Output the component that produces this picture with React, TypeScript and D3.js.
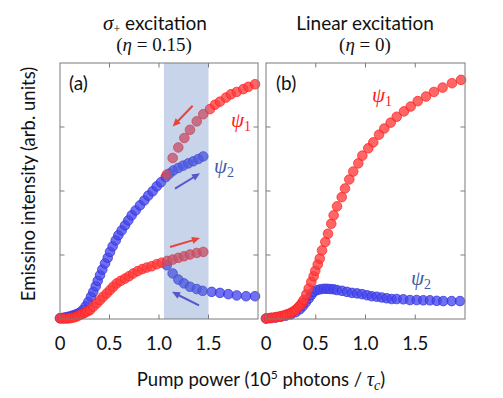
import React from "react";
import * as d3 from "d3";

// ---------- data ----------
const xTicks = [0.5, 1.0, 1.5];
const xTickLabels = ["0", "0.5", "1.0", "1.5"];
const xTickLabelValues = [0, 0.5, 1.0, 1.5];
const yTicks = [0.25, 0.5, 0.75];

// Panel (a): sigma+ excitation (eta = 0.15)
const aBlueUpX = [0, 0.025, 0.05, 0.075, 0.1, 0.125, 0.15, 0.175, 0.2, 0.23, 0.26, 0.286, 0.313, 0.336, 0.361, 0.381, 0.404, 0.427, 0.455, 0.482, 0.505, 0.532, 0.563, 0.589, 0.623, 0.657, 0.69, 0.724, 0.764, 0.808, 0.852, 0.892, 0.936, 0.977, 1.02, 1.068, 1.106, 1.145, 1.195, 1.245, 1.296, 1.346, 1.397, 1.447];
const aBlueUpY = [0.003, 0.004, 0.006, 0.008, 0.01, 0.013, 0.016, 0.02, 0.025, 0.035, 0.05, 0.067, 0.087, 0.106, 0.128, 0.149, 0.171, 0.193, 0.217, 0.239, 0.262, 0.284, 0.307, 0.327, 0.346, 0.366, 0.385, 0.405, 0.424, 0.444, 0.463, 0.482, 0.499, 0.518, 0.534, 0.554, 0.568, 0.58, 0.59, 0.599, 0.608, 0.616, 0.625, 0.635];
const aBlueDownX = [1.078, 1.138, 1.195, 1.253, 1.313, 1.381, 1.441, 1.532, 1.616, 1.7, 1.785, 1.879, 1.97];
const aBlueDownY = [0.21, 0.178, 0.154, 0.139, 0.126, 0.117, 0.11, 0.106, 0.102, 0.097, 0.092, 0.089, 0.089];
const aRedUpX = [0, 0.025, 0.051, 0.075, 0.101, 0.125, 0.152, 0.177, 0.202, 0.228, 0.253, 0.278, 0.303, 0.336, 0.371, 0.404, 0.437, 0.472, 0.505, 0.538, 0.573, 0.613, 0.657, 0.697, 0.74, 0.785, 0.831, 0.876, 0.926, 0.977, 1.027, 1.084, 1.138, 1.195, 1.253, 1.313, 1.381, 1.447];
const aRedUpY = [0.003, 0.002, 0.002, 0.002, 0.003, 0.005, 0.007, 0.011, 0.016, 0.02, 0.025, 0.03, 0.035, 0.048, 0.061, 0.074, 0.087, 0.1, 0.113, 0.126, 0.139, 0.149, 0.158, 0.167, 0.178, 0.187, 0.195, 0.201, 0.206, 0.214, 0.22, 0.227, 0.232, 0.239, 0.245, 0.252, 0.258, 0.262];
const aRedDownX = [1.078, 1.138, 1.195, 1.256, 1.313, 1.381, 1.447, 1.515, 1.566, 1.616, 1.677, 1.727, 1.785, 1.852, 1.902, 1.97];
const aRedDownY = [0.564, 0.629, 0.67, 0.707, 0.739, 0.772, 0.8, 0.82, 0.837, 0.849, 0.865, 0.878, 0.887, 0.898, 0.907, 0.917];

// Panel (b): linear excitation (eta = 0)
const bBlueX = [0, 0.05, 0.1, 0.15, 0.2, 0.25, 0.3, 0.34, 0.37, 0.4, 0.43, 0.455, 0.479, 0.513, 0.546, 0.58, 0.613, 0.646, 0.68, 0.714, 0.764, 0.814, 0.864, 0.915, 0.965, 1.015, 1.062, 1.113, 1.163, 1.213, 1.263, 1.314, 1.38, 1.447, 1.515, 1.581, 1.648, 1.716, 1.782, 1.866, 1.95];
const bBlueY = [0.002, 0.004, 0.006, 0.009, 0.013, 0.018, 0.027, 0.038, 0.05, 0.065, 0.08, 0.094, 0.106, 0.113, 0.116, 0.118, 0.118, 0.117, 0.116, 0.113, 0.11, 0.106, 0.102, 0.1, 0.097, 0.093, 0.089, 0.087, 0.084, 0.081, 0.078, 0.078, 0.077, 0.074, 0.074, 0.073, 0.073, 0.071, 0.07, 0.07, 0.07];
const bRedX = [0, 0.03, 0.06, 0.09, 0.11, 0.14, 0.16, 0.19, 0.21, 0.24, 0.26, 0.285, 0.305, 0.325, 0.345, 0.362, 0.379, 0.405, 0.429, 0.455, 0.479, 0.495, 0.52, 0.54, 0.563, 0.596, 0.623, 0.656, 0.68, 0.714, 0.761, 0.794, 0.837, 0.877, 0.928, 0.968, 1.028, 1.078, 1.136, 1.189, 1.253, 1.314, 1.387, 1.454, 1.525, 1.608, 1.688, 1.775, 1.869, 1.96];
const bRedY = [0.002, 0.003, 0.005, 0.006, 0.008, 0.01, 0.012, 0.015, 0.018, 0.022, 0.026, 0.032, 0.038, 0.046, 0.054, 0.063, 0.074, 0.096, 0.119, 0.145, 0.167, 0.188, 0.213, 0.236, 0.268, 0.301, 0.333, 0.372, 0.405, 0.44, 0.476, 0.51, 0.545, 0.576, 0.608, 0.638, 0.667, 0.69, 0.72, 0.744, 0.767, 0.79, 0.811, 0.83, 0.851, 0.869, 0.887, 0.904, 0.921, 0.934];

// hysteresis window in panel (a)
const shadeRange = [1.05, 1.5];

// arrows in panel (a): [x1, y1, x2, y2, colour key]
const arrowsA: [number, number, number, number, string][] = [
  [1.34, 0.833, 1.138, 0.752, "red"],
  [1.162, 0.509, 1.414, 0.569, "blue"],
  [1.111, 0.281, 1.414, 0.316, "red"],
  [1.404, 0.053, 1.131, 0.106, "blue"],
];

// ---------- styles ----------
const RED = "#ff3b3b";
const RED_STROKE = "#ff1f1f";
const BLUE = "#4848ee";
const BLUE_STROKE = "#3030d8";
const ARROW_RED = "#e8443c";
const ARROW_BLUE = "#5656cc";
const LABEL_BLUE = "#3d5ca8";
const SANS = "Lato, 'Open Sans', sans-serif";
const SERIF = "'Liberation Serif', 'DejaVu Serif', serif";

const W = 503;
const H = 398;
const Y_TOP = 63;
const Y_BOT = 319;

const yScale = d3.scaleLinear().domain([0, 1]).range([Y_BOT, Y_TOP]);

function zip(xs: number[], ys: number[]) {
  return xs.map((x, i) => [x, ys[i]] as [number, number]);
}

function Markers({ pts, x, fill, stroke }: { pts: [number, number][]; x: d3.ScaleLinear<number, number>; fill: string; stroke: string }) {
  return (
    <g>
      {pts.map(([px, py], i) => (
        <circle key={i} cx={x(px)} cy={yScale(py)} r={4.8} fill={fill} fillOpacity={0.78} stroke={stroke} strokeOpacity={0.8} strokeWidth={0.9} />
      ))}
    </g>
  );
}

function Arrow({ x1, y1, x2, y2, color }: { x1: number; y1: number; x2: number; y2: number; color: string }) {
  const dx = x2 - x1;
  const dy = y2 - y1;
  const len = Math.hypot(dx, dy);
  const ux = dx / len;
  const uy = dy / len;
  const hl = 8;
  const hw = 3.6;
  const bx = x2 - ux * hl;
  const by = y2 - uy * hl;
  const pts = `${x2},${y2} ${bx - uy * hw},${by + ux * hw} ${bx + uy * hw},${by - ux * hw}`;
  return (
    <g>
      <line x1={x1} y1={y1} x2={bx + ux * 1} y2={by + uy * 1} stroke={color} strokeWidth={2} />
      <polygon points={pts} fill={color} />
    </g>
  );
}

function Psi({ x, y, sub, color }: { x: number; y: number; sub: string; color: string }) {
  return (
    <text x={x} y={y} fill={color} fontFamily={SERIF} fontStyle="italic" fontSize={21}>
      ψ
      <tspan fontSize={14} fontStyle="normal" dy={4}>{sub}</tspan>
    </text>
  );
}

function Frame({ x }: { x: d3.ScaleLinear<number, number> }) {
  const [x0, x1] = x.range();
  const tl = 4.5;
  return (
    <g stroke="#7a7a7a" strokeWidth={1} fill="none">
      <rect x={x0} y={Y_TOP} width={x1 - x0} height={Y_BOT - Y_TOP} />
      {xTicks.map((t) => (
        <g key={"x" + t}>
          <line x1={x(t)} x2={x(t)} y1={Y_BOT} y2={Y_BOT - tl} />
          <line x1={x(t)} x2={x(t)} y1={Y_TOP} y2={Y_TOP + tl} />
        </g>
      ))}
      {yTicks.map((t) => (
        <g key={"y" + t}>
          <line x1={x0} x2={x0 + tl} y1={yScale(t)} y2={yScale(t)} />
          <line x1={x1} x2={x1 - tl} y1={yScale(t)} y2={yScale(t)} />
        </g>
      ))}
    </g>
  );
}

function TickLabels({ x }: { x: d3.ScaleLinear<number, number> }) {
  return (
    <g fontFamily={SANS} fontSize={18.5} fill="#111" textAnchor="middle">
      {xTickLabelValues.map((v, i) => (
        <text key={i} x={x(v)} y={350}>{xTickLabels[i]}</text>
      ))}
    </g>
  );
}

export default function App() {
  const xa = d3.scaleLinear().domain([0, 2]).range([60, 258]);
  const xb = d3.scaleLinear().domain([0, 2]).range([266, 465]);
  const colorOf = (k: string) => (k === "red" ? ARROW_RED : ARROW_BLUE);

  return (
    <svg width={W} height={H} style={{ position: "absolute", left: 0, top: 0, background: "#fff" }}>
      <rect x={0} y={0} width={W} height={H} fill="#fff" />

      {/* titles */}
      <text x={155} y={30} textAnchor="middle" fontSize={19} fontFamily={SANS} fill="#111">
        <tspan fontFamily={SERIF} fontStyle="italic" fontSize={21}>σ</tspan>
        <tspan fontFamily={SERIF} fontSize={12} dy={3}>+</tspan>
        <tspan dy={-3}> excitation</tspan>
      </text>
      <text x={154} y={51} textAnchor="middle" fontSize={19} fontFamily={SERIF} fill="#111">
        (<tspan fontStyle="italic">η</tspan> = 0.15)
      </text>
      <text x={365} y={30} textAnchor="middle" fontSize={19} fontFamily={SANS} fill="#111">
        Linear excitation
      </text>
      <text x={365} y={51} textAnchor="middle" fontSize={19} fontFamily={SERIF} fill="#111">
        (<tspan fontStyle="italic">η</tspan> = 0)
      </text>

      {/* panel (a) */}
      <Markers pts={zip(aBlueUpX, aBlueUpY)} x={xa} fill={BLUE} stroke={BLUE_STROKE} />
      <Markers pts={zip(aBlueDownX, aBlueDownY)} x={xa} fill={BLUE} stroke={BLUE_STROKE} />
      <Markers pts={zip(aRedUpX, aRedUpY)} x={xa} fill={RED} stroke={RED_STROKE} />
      <Markers pts={zip(aRedDownX, aRedDownY)} x={xa} fill={RED} stroke={RED_STROKE} />
      <rect x={xa(shadeRange[0])} y={Y_TOP} width={xa(shadeRange[1]) - xa(shadeRange[0])} height={Y_BOT - Y_TOP} fill="#5a82c0" fillOpacity={0.34} />
      {arrowsA.map(([x1, y1, x2, y2, c], i) => (
        <Arrow key={i} x1={xa(x1)} y1={yScale(y1)} x2={xa(x2)} y2={yScale(y2)} color={colorOf(c)} />
      ))}
      <Frame x={xa} />
      <Psi x={xa(1.727)} y={yScale(0.751)} sub="1" color="#ff1a1a" />
      <Psi x={xa(1.556)} y={yScale(0.572)} sub="2" color={LABEL_BLUE} />
      <text x={69} y={90} fontFamily={SANS} fontSize={19} fill="#111">(a)</text>
      <TickLabels x={xa} />

      {/* panel (b) */}
      <Markers pts={zip(bBlueX, bBlueY)} x={xb} fill={BLUE} stroke={BLUE_STROKE} />
      <Markers pts={zip(bRedX, bRedY)} x={xb} fill={RED} stroke={RED_STROKE} />
      <Frame x={xb} />
      <Psi x={xb(1.065)} y={yScale(0.848)} sub="1" color="#ff1a1a" />
      <Psi x={xb(1.457)} y={yScale(0.132)} sub="2" color={LABEL_BLUE} />
      <text x={276} y={90} fontFamily={SANS} fontSize={19} fill="#111">(b)</text>
      <TickLabels x={xb} />

      {/* axis titles */}
      <text transform="translate(35,184) rotate(-90)" textAnchor="middle" fontFamily={SANS} fontSize={18.5} fill="#111">
        Emissino intensity (arb. units)
      </text>
      <text x={261} y={386} textAnchor="middle" fontFamily={SANS} fontSize={18.5} fill="#111">
        Pump power (10<tspan fontSize={12} dy={-7}>5</tspan>
        <tspan dy={7}> photons / </tspan>
        <tspan fontFamily={SERIF} fontStyle="italic" fontSize={20}>τ</tspan>
        <tspan fontFamily={SERIF} fontStyle="italic" fontSize={14} dy={4}>c</tspan>
        <tspan dy={-4}>)</tspan>
      </text>
    </svg>
  );
}
